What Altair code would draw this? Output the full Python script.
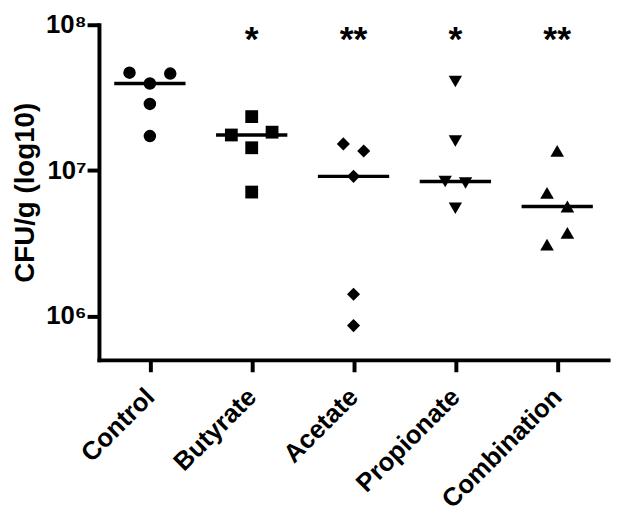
import json
import altair as alt
import pandas as pd

# ---- data ----
groups = ["Control", "Butyrate", "Acetate", "Propionate", "Combination"]
control = [4.69e7, 4.62e7, 3.95e7, 2.86e7, 1.72e7]
control_slot = [-2, 2, 0, 0, 0]
butyrate = [2.34e7, 1.75e7, 1.83e7, 1.43e7, 7.1e6]
butyrate_slot = [0, -2, 2, 0, 0]
acetate = [1.52e7, 1.36e7, 9.1e6, 1.41e6, 8.6e5]
acetate_slot = [-1, 1, 0, 0, 0]
propionate = [4.08e7, 1.59e7, 8.4e6, 8.2e6, 5.5e6]
propionate_slot = [0, 0, -1, 1, 0]
combination = [1.36e7, 7.0e6, 5.65e6, 3.72e6, 3.09e6]
combination_slot = [0, -1, 1, 1, -1]

sig_groups = ["Butyrate", "Acetate", "Propionate", "Combination"]
sig_marks = ["*", "**", "*", "**"]
sig_level = 6.6e7

y_ticks = [1e6, 1e7, 1e8]
y_domain = [5e5, 1e8]
y_title = "CFU/g (log10)"

# ---- build tables ----
series = [control, butyrate, acetate, propionate, combination]
slots = [control_slot, butyrate_slot, acetate_slot, propionate_slot, combination_slot]
SLOT_STEP = 0.1
rows = []
for i, (g, vals, sl) in enumerate(zip(groups, series, slots)):
    for v, s in zip(vals, sl):
        rows.append({"group": g, "idx": i, "value": v, "xpos": i + s * SLOT_STEP})
df = pd.DataFrame(rows)

sig_df = pd.DataFrame({
    "group": sig_groups,
    "idx": [groups.index(g) for g in sig_groups],
    "mark": sig_marks,
    "level": [sig_level] * len(sig_groups),
})

FONT = "Liberation Sans"
xscale = alt.Scale(domain=[-0.5, len(groups) - 0.5], nice=False, zero=False)
yscale = alt.Scale(type="log", domain=y_domain, nice=False)

x_label_expr = json.dumps(groups) + "[datum.value]"
y_label_expr = ("'10' + ['\u2070','\u00b9','\u00b2','\u00b3','\u2074','\u2075','\u2076','\u2077','\u2078','\u2079']"
                "[round(log(datum.value)/LN10)]")

xaxis = alt.Axis(values=list(range(len(groups))), labelExpr=x_label_expr, title=None,
                 grid=False, labelAngle=-45, labelAlign="right", labelBaseline="middle",
                 labelPadding=21, labelFontSize=26, labelFontWeight="bold", labelFont=FONT,
                 labelColor="black", labelOverlap=False, labelFlush=False,
                 tickSize=12, tickWidth=4, tickColor="black",
                 domainColor="black", domainWidth=4, domainCap="square")
yaxis = alt.Axis(values=y_ticks, labelExpr=y_label_expr, title=y_title, grid=False,
                 labelPadding=1, labelFontSize=26, labelFontWeight="bold", labelFont=FONT,
                 labelColor="black", labelOverlap=False, labelFlush=False,
                 tickSize=12, tickWidth=4, tickColor="black",
                 domainColor="black", domainWidth=4, domainCap="square",
                 titleFont=FONT, titleFontSize=28, titleFontWeight="bold", titleColor="black",
                 titlePadding=6, minExtent=54, maxExtent=54)

points = alt.Chart(df).mark_point(filled=True, opacity=1, color="black", strokeWidth=0).encode(
    x=alt.X("xpos:Q", scale=xscale, axis=xaxis),
    y=alt.Y("value:Q", scale=yscale, axis=yaxis),
    shape=alt.Shape("group:N", scale=alt.Scale(domain=groups,
                    range=["circle", "square", "diamond", "triangle-down", "triangle-up"]), legend=None),
    size=alt.Size("group:N", scale=alt.Scale(domain=groups, range=[160, 190, 290, 210, 210]), legend=None),
)

medians = alt.Chart(df).transform_aggregate(
    med="median(value)", groupby=["group", "idx"]
).transform_calculate(
    x1="datum.idx - 0.35", x2="datum.idx + 0.35"
).mark_rule(color="black", strokeWidth=3.5).encode(
    x=alt.X("x1:Q", scale=xscale, axis=xaxis),
    x2="x2:Q",
    y=alt.Y("med:Q", scale=yscale, axis=yaxis),
)

stars = alt.Chart(sig_df).mark_text(font=FONT, fontSize=36, fontWeight="bold", color="black",
                                    align="center", baseline="alphabetic").encode(
    x=alt.X("idx:Q", scale=xscale, axis=xaxis),
    y=alt.Y("level:Q", scale=yscale, axis=yaxis),
    text="mark:N",
)

chart = alt.layer(points, medians, stars).properties(
    width=515, height=339,
    autosize=alt.AutoSizeParams(type="none"),
    padding={"left": 92, "top": 14, "right": 10, "bottom": 158},
    background="white",
).configure_view(stroke=None)

chart.save("out.html", embed_options={"renderer": "svg", "actions": False})
